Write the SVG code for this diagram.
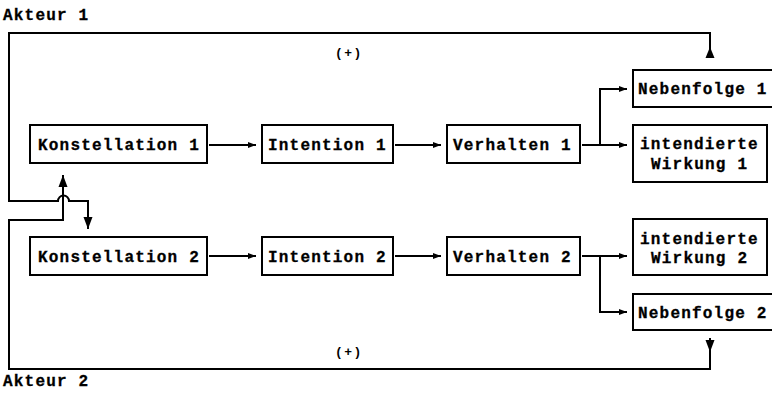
<svg xmlns="http://www.w3.org/2000/svg" width="772" height="398" viewBox="0 0 772 398">
<style>
.box{fill:#fff;stroke:#000;stroke-width:2}
.t{font-family:"Liberation Mono","DejaVu Sans Mono",monospace;font-weight:bold;font-size:16px;letter-spacing:1.2px;fill:#000;stroke:#000;stroke-width:0.3}
.s{font-family:"Liberation Mono","DejaVu Sans Mono",monospace;font-weight:bold;font-size:13px;letter-spacing:1.5px;fill:#000}
.c{fill:none;stroke:#000;stroke-width:2}
.ah{fill:#000;stroke:none}
</style>
<defs>
<marker id="arr" markerUnits="userSpaceOnUse" markerWidth="8" markerHeight="7" refX="8" refY="3.5" orient="auto">
<path d="M0,0.5 L8,3.5 L0,6.5 z" fill="#000"/>
</marker>
<marker id="arrv" markerUnits="userSpaceOnUse" markerWidth="12" markerHeight="10" refX="12" refY="5" orient="auto">
<path d="M0,0.5 L12,5 L0,9.5 z" fill="#000"/>
</marker>
</defs>
<text class="t" x="3" y="20">Akteur 1</text>
<text class="t" x="3" y="386">Akteur 2</text>
<text class="s" x="335" y="57">(+)</text>
<text class="s" x="335" y="356">(+)</text>
<g id="connectors">
<path class="c" d="M209,145 H256" marker-end="url(#arr)"/>
<path class="c" d="M395,145 H441" marker-end="url(#arr)"/>
<path class="c" d="M582,145 H627" marker-end="url(#arr)"/>
<path class="c" d="M600,145 V89 H627" marker-end="url(#arr)"/>
<path class="c" d="M209,256 H256" marker-end="url(#arr)"/>
<path class="c" d="M395,256 H441" marker-end="url(#arr)"/>
<path class="c" d="M582,256 H627" marker-end="url(#arr)"/>
<path class="c" d="M600,256 V312 H627" marker-end="url(#arr)"/>
<path class="c" d="M710,58 V33 H9 V201 H58 A5.5,5.5 0 0 1 69,201 H88 V229" marker-end="url(#arrv)"/>
<polygon class="ah" points="710,47 705.5,58 714.5,58"/>
<path class="c" d="M710,338 V369 H9 V220 H63 V175" marker-end="url(#arrv)"/>
<polygon class="ah" points="710,352 705.5,340 714.5,340"/>
</g>
<g id="konstellation1"><rect class="box" x="30" y="125" width="177" height="38"/><text class="t" x="38" y="150">Konstellation 1</text></g>
<g id="intention1"><rect class="box" x="262" y="125" width="131" height="38"/><text class="t" x="268" y="150">Intention 1</text></g>
<g id="verhalten1"><rect class="box" x="447" y="125" width="133" height="38"/><text class="t" x="453" y="150">Verhalten 1</text></g>
<g id="nebenfolge1"><rect class="box" x="633" y="70" width="150" height="37"/><text class="t" x="638" y="94">Nebenfolge 1</text></g>
<g id="wirkung1"><rect class="box" x="633" y="125" width="134" height="57"/><text class="t" x="640" y="149">intendierte</text><text class="t" x="651" y="169">Wirkung 1</text></g>
<g id="konstellation2"><rect class="box" x="30" y="237" width="177" height="38"/><text class="t" x="38" y="262">Konstellation 2</text></g>
<g id="intention2"><rect class="box" x="262" y="237" width="131" height="38"/><text class="t" x="268" y="262">Intention 2</text></g>
<g id="verhalten2"><rect class="box" x="447" y="237" width="133" height="38"/><text class="t" x="453" y="262">Verhalten 2</text></g>
<g id="wirkung2"><rect class="box" x="633" y="219" width="134" height="56"/><text class="t" x="640" y="244">intendierte</text><text class="t" x="651" y="263">Wirkung 2</text></g>
<g id="nebenfolge2"><rect class="box" x="633" y="294" width="150" height="36"/><text class="t" x="638" y="318">Nebenfolge 2</text></g>
</svg>
